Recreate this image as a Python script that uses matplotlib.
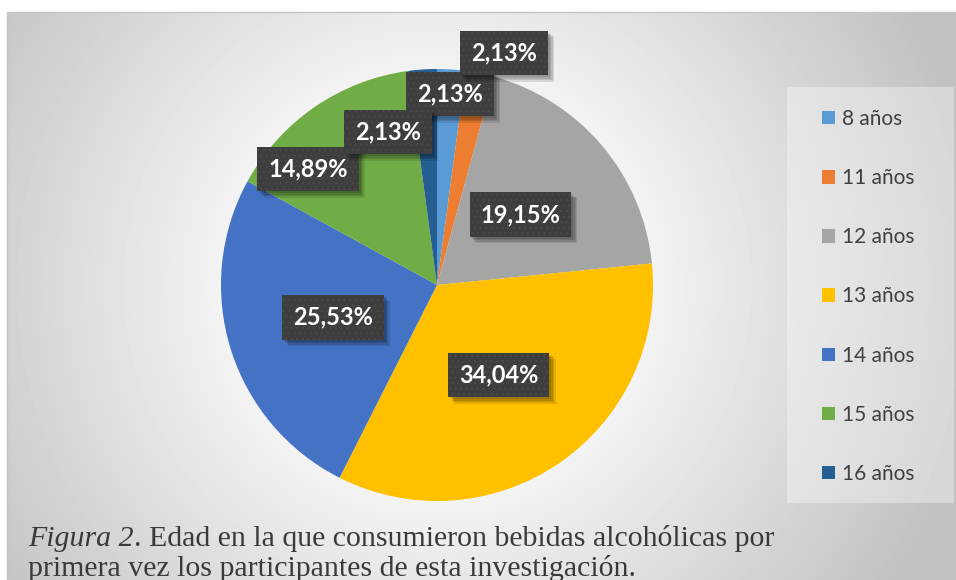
import numpy as np
import matplotlib
matplotlib.use("Agg")
import matplotlib.pyplot as plt
from matplotlib.patches import Rectangle
import matplotlib.patheffects as pe

# datos
edades = ['8 años', '11 años', '12 años', '13 años', '14 años', '15 años', '16 años']
porcentajes = [2.13, 2.13, 19.15, 34.04, 25.53, 14.89, 2.13]
colores = ['#5B9BD5', '#ED7D31', '#A5A5A5', '#FFC000', '#4472C4', '#70AD47', '#255E91']

# etiquetas movidas a mano (como en Excel), en píxeles con y hacia arriba
etiquetas_movidas = {0: (450, 486), 1: (504, 527), 5: (308, 411), 6: (388, 448)}

plt.rcParams['hatch.linewidth'] = 0.6


class Sombra(pe.SimplePatchShadow):
    # sombra sin la trama de puntos
    def draw_path(self, renderer, gc, tpath, affine, rgbFace):
        gc0 = renderer.new_gc()
        gc0.copy_properties(gc)
        gc0.set_hatch(None)
        super().draw_path(renderer, gc0, tpath, affine, rgbFace)
        gc0.restore()


W, H = 956, 580
fig = plt.figure(figsize=(W / 100, H / 100), dpi=100)
ax = fig.add_axes([0, 0, 1, 1])

# fondo con degradado radial
cx, cy_px, r = 437, 285, 216
yy, xx = np.mgrid[12:H, 7:W]
d = np.hypot(xx - cx, yy - cy_px)
fondo = np.clip(0.955 - 0.175 * (d - 210) / 300, 0.76, 0.955)
ax.imshow(fondo, extent=(7, W, 0, H - 12), origin='upper', cmap='gray',
          vmin=0, vmax=1, interpolation='bilinear', zorder=0)
ax.plot([7, 7, W], [0, H - 12, H - 12], color='#c4c4c4', lw=1, zorder=1)

fmt = lambda p: f"{p:.2f}%".replace('.', ',')
wedges, _, autotexts = ax.pie(
    porcentajes, colors=colores, center=(cx, H - cy_px), radius=r,
    startangle=90, counterclock=False, autopct=fmt, pctdistance=0.505,
    wedgeprops=dict(linewidth=0), frame=True)

sombras = [Sombra(offset=(o, -o), shadow_rgbFace='black', alpha=0.11)
           for o in (1.5, 2.5, 3.5, 4.5)]
for i, t in enumerate(autotexts):
    if i in etiquetas_movidas:
        t.set_position(etiquetas_movidas[i])
    t.set_fontfamily('Lato')
    t.set_fontweight('bold')
    t.set_fontsize(17)
    t.set_color('white')
    t.set_ha('center')
    t.set_va('center')
    t.set_zorder(5)
    t.set_bbox(dict(boxstyle='square,pad=0.46', fc='#3e3e3e', ec='#4c4c4c',
                    lw=0, hatch='...'))
    t.get_bbox_patch().set_path_effects(sombras + [pe.Normal()])

# caja de la leyenda
ax.add_patch(Rectangle((787, H - 503), 167, 416, fc='white', alpha=0.35,
                       ec='none', zorder=1))
ax.legend(wedges, edades, loc='upper left', bbox_to_anchor=(822, H - 109),
          bbox_transform=ax.transData, frameon=False, borderpad=0,
          borderaxespad=0, handlelength=0.62, handleheight=0.62,
          handletextpad=0.35, labelspacing=1.88, labelcolor='#404040',
          prop=dict(family='Lato', size=15))

# pie de figura
t1 = ax.text(28, H - 546, 'Figura 2', family='Liberation Serif', style='italic',
             fontsize=21.5, color='#3a3a3a', va='baseline', ha='left')
ax.annotate('. Edad en la que consumieron bebidas alcohólicas por',
            xy=(1, 0), xycoords=t1, va='bottom', ha='left',
            family='Liberation Serif', fontsize=21.5, color='#3a3a3a')
ax.text(28, H - 576, 'primera vez los participantes de esta investigación.',
        family='Liberation Serif', fontsize=21.5, color='#3a3a3a',
        va='baseline', ha='left')

ax.set_xlim(0, W)
ax.set_ylim(0, H)
ax.set_aspect('auto')
ax.axis('off')
fig.savefig('out.png', dpi=100, facecolor='white')
